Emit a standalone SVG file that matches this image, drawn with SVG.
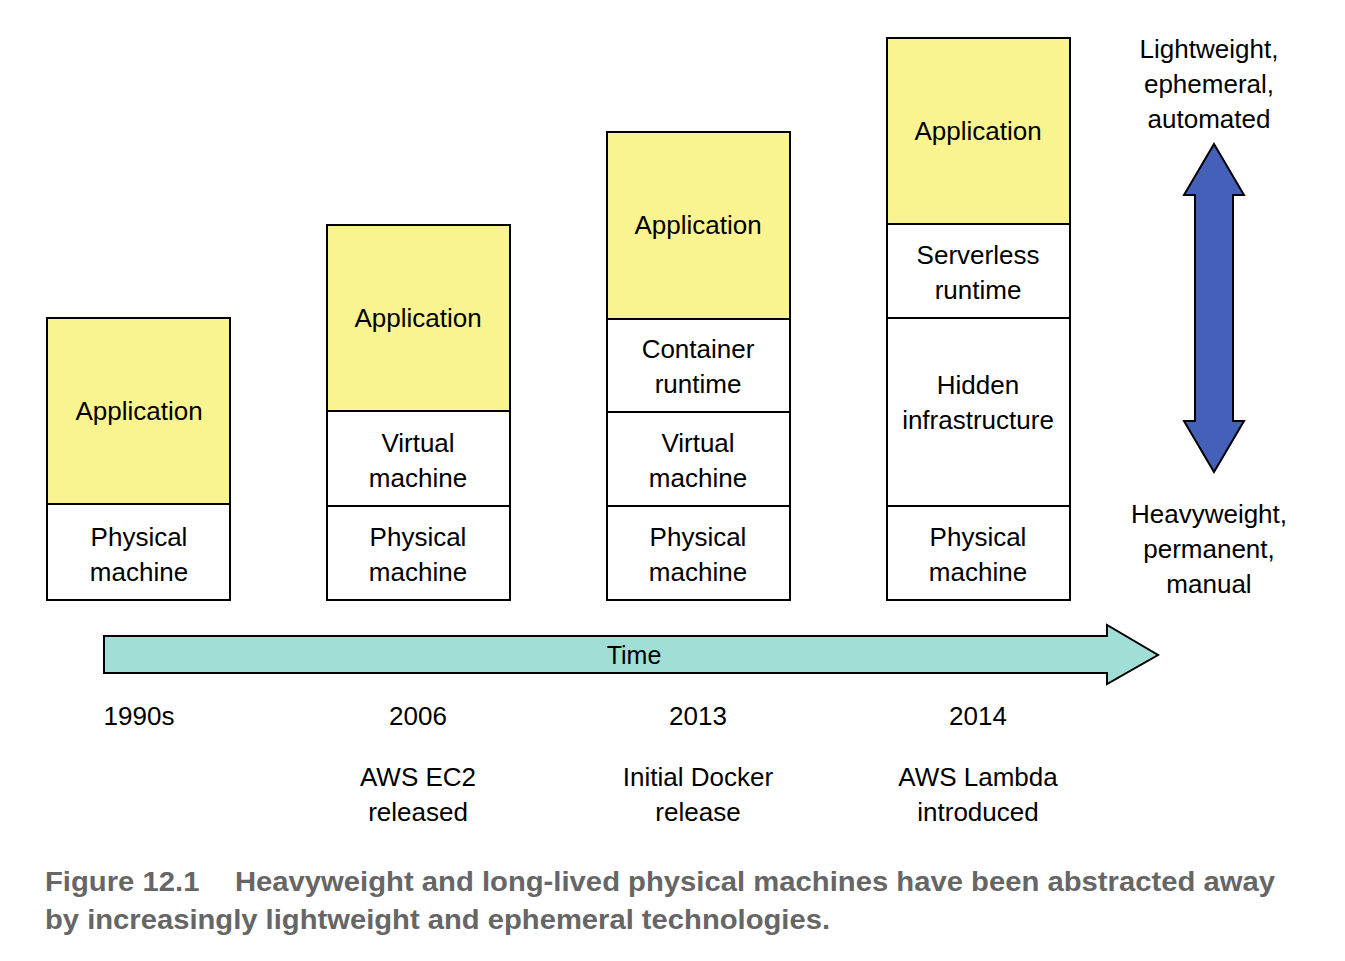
<svg xmlns="http://www.w3.org/2000/svg" width="1345" height="961" viewBox="0 0 1345 961">
<style>
.app{fill:#f9f48f;stroke:#000;stroke-width:2}
.lay{fill:#fff;stroke:#000;stroke-width:2}
text{font-family:"Liberation Sans",Arial,sans-serif;font-size:26px;fill:#000;text-anchor:middle}
.cap{font-weight:bold;font-size:28px;fill:#666;text-anchor:start}
</style>
<rect width="1345" height="961" fill="#fff"/>
<g id="col1990">
<rect class="app" x="47" y="318" width="183" height="186"/>
<rect class="lay" x="47" y="504" width="183" height="96"/>
<text x="139" y="420">Application</text>
<text x="139" y="546">Physical</text><text x="139" y="581">machine</text>
</g>
<g id="col2006">
<rect class="app" x="327" y="225" width="183" height="186"/>
<rect class="lay" x="327" y="411" width="183" height="95"/>
<rect class="lay" x="327" y="506" width="183" height="94"/>
<text x="418" y="327">Application</text>
<text x="418" y="452">Virtual</text><text x="418" y="487">machine</text>
<text x="418" y="546">Physical</text><text x="418" y="581">machine</text>
</g>
<g id="col2013">
<rect class="app" x="607" y="132" width="183" height="187"/>
<rect class="lay" x="607" y="319" width="183" height="93"/>
<rect class="lay" x="607" y="412" width="183" height="94"/>
<rect class="lay" x="607" y="506" width="183" height="94"/>
<text x="698" y="234">Application</text>
<text x="698" y="358">Container</text><text x="698" y="393">runtime</text>
<text x="698" y="452">Virtual</text><text x="698" y="487">machine</text>
<text x="698" y="546">Physical</text><text x="698" y="581">machine</text>
</g>
<g id="col2014">
<rect class="app" x="887" y="38" width="183" height="186"/>
<rect class="lay" x="887" y="224" width="183" height="94"/>
<rect class="lay" x="887" y="318" width="183" height="188"/>
<rect class="lay" x="887" y="506" width="183" height="94"/>
<text x="978" y="140">Application</text>
<text x="978" y="264">Serverless</text><text x="978" y="299">runtime</text>
<text x="978" y="394">Hidden</text><text x="978" y="429">infrastructure</text>
<text x="978" y="546">Physical</text><text x="978" y="581">machine</text>
</g>
<g id="connectors">
<polygon points="104,636 1107,636 1107,625 1158,655 1107,684 1107,673 104,673" fill="#a0ded6" stroke="#000" stroke-width="2"/>
<polygon points="1214,144 1244,195 1233,195 1233,421 1244,421 1214,472 1184,421 1195,421 1195,195 1184,195" fill="#4560b8" stroke="#000" stroke-width="2"/>
</g>
<g id="labels">
<text x="634" y="664" style="font-size:25px">Time</text>
<text x="1209" y="58">Lightweight,</text>
<text x="1209" y="93">ephemeral,</text>
<text x="1209" y="128">automated</text>
<text x="1209" y="523">Heavyweight,</text>
<text x="1209" y="558">permanent,</text>
<text x="1209" y="593">manual</text>
<text x="139" y="725">1990s</text>
<text x="418" y="725">2006</text>
<text x="698" y="725">2013</text>
<text x="978" y="725">2014</text>
<text x="418" y="786">AWS EC2</text><text x="418" y="821">released</text>
<text x="698" y="786">Initial Docker</text><text x="698" y="821">release</text>
<text x="978" y="786">AWS Lambda</text><text x="978" y="821">introduced</text>
</g>
<g id="caption">
<text class="cap" x="45" y="891" textLength="1230" lengthAdjust="spacingAndGlyphs">Figure 12.1<tspan dx="34">Heavyweight and long-lived physical machines have been abstracted away</tspan></text>
<text class="cap" x="45" y="929" textLength="785" lengthAdjust="spacingAndGlyphs">by increasingly lightweight and ephemeral technologies.</text>
</g>
</svg>
